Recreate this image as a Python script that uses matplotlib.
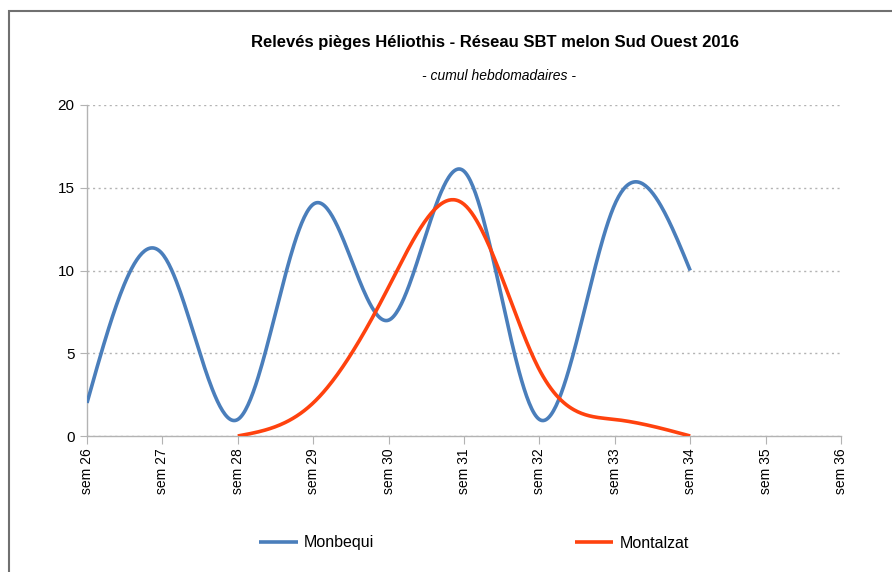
import numpy as np
import matplotlib.pyplot as plt
from matplotlib.patches import Rectangle

plt.rcParams['font.family'] = ['Liberation Sans', 'DejaVu Sans']

# data
weeks = ['sem 26', 'sem 27', 'sem 28', 'sem 29', 'sem 30', 'sem 31',
         'sem 32', 'sem 33', 'sem 34', 'sem 35', 'sem 36']
monbequi = [2, 11, 1, 14, 7, 16, 1, 14, 10, None, None]
montalzat = [None, None, 0, 2, 9, 14, 4, 1, 0, None, None]

blue = '#4a7ebb'
orange = '#ff420e'
grey = '#b3b3b3'


def natural_coeffs(t, v):
    # second derivatives of a natural cubic spline
    n = len(t)
    h = np.diff(t)
    A = np.zeros((n, n))
    b = np.zeros(n)
    A[0, 0] = A[-1, -1] = 1
    for i in range(1, n - 1):
        A[i, i - 1] = h[i - 1]
        A[i, i] = 2 * (h[i - 1] + h[i])
        A[i, i + 1] = h[i]
        b[i] = 6 * ((v[i + 1] - v[i]) / h[i] - (v[i] - v[i - 1]) / h[i - 1])
    return np.linalg.solve(A, b)


def smooth(vals, steps=60):
    xs = np.array([i for i, v in enumerate(vals) if v is not None], float)
    ys = np.array([v for v in vals if v is not None], float)
    M = natural_coeffs(xs, ys)
    cx, cy = [], []
    for i in range(len(xs) - 1):
        h = xs[i + 1] - xs[i]
        s = np.linspace(xs[i], xs[i + 1], steps)
        a = (xs[i + 1] - s) / h
        c = (s - xs[i]) / h
        cy.append(a * ys[i] + c * ys[i + 1]
                  + ((a ** 3 - a) * M[i] + (c ** 3 - c) * M[i + 1]) * h * h / 6)
        cx.append(s)
    return np.concatenate(cx), np.concatenate(cy)


fig = plt.figure(figsize=(8.92, 5.72), dpi=100)
ax = fig.add_axes([87 / 892, 1 - 436 / 572, 754 / 892, 331 / 572])

x1, y1 = smooth(monbequi)
x2, y2 = smooth(montalzat)
ax.plot(x1, y1, color=blue, lw=2.6, label='Monbequi', solid_capstyle='butt', zorder=3)
ax.plot(x2, y2, color=orange, lw=2.6, label='Montalzat', solid_capstyle='butt', zorder=4)

ax.set_xlim(0, len(weeks) - 1)
ax.set_ylim(0, 20)
ax.set_xticks(range(len(weeks)))
ax.set_xticklabels(weeks, rotation=90, fontsize=10)
ax.set_yticks([0, 5, 10, 15, 20])
ax.tick_params(axis='y', labelsize=11, length=5, color=grey, pad=4)
ax.tick_params(axis='x', length=6, color=grey, pad=3)
ax.yaxis.grid(True, linestyle=(0, (1.5, 2.5)), color=grey, lw=1)
ax.set_axisbelow(True)
for side in ['top', 'right']:
    ax.spines[side].set_visible(False)
for side in ['left', 'bottom']:
    ax.spines[side].set_color(grey)
    ax.spines[side].set_linewidth(1)

fig.text(495 / 892, 1 - 42 / 572, 'Relevés pièges Héliothis - Réseau SBT melon Sud Ouest 2016',
         ha='center', va='center', fontsize=12, fontweight='bold')
fig.text(499 / 892, 1 - 76 / 572, '- cumul hebdomadaires -',
         ha='center', va='center', fontsize=10, style='italic')

fig.legend(loc='center', bbox_to_anchor=(474 / 892, 1 - 543 / 572), ncol=2,
           frameon=False, fontsize=11.5, handlelength=2.4, handletextpad=0.37,
           columnspacing=12.6)

fig.patches.append(Rectangle((9 / 892, -0.1), 1.2, 1 - 11 / 572 + 0.1,
                             transform=fig.transFigure, fill=False,
                             edgecolor='#707070', lw=1.5))

fig.savefig('out.png', dpi=100)
